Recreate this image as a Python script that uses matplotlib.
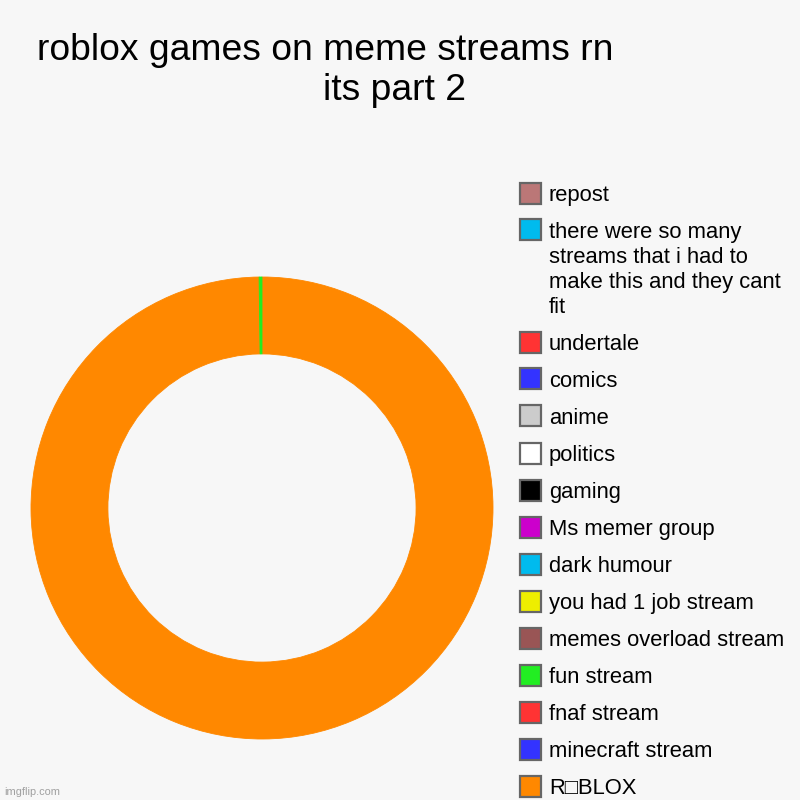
import matplotlib
matplotlib.use("Agg")
import matplotlib.pyplot as plt
from matplotlib.patches import Rectangle

# ---- data ----
labels = [
    "R\u25a1BLOX",
    "minecraft stream",
    "fnaf stream",
    "fun stream",
    "memes overload stream",
    "you had 1 job stream",
    "dark humour",
    "Ms memer group",
    "gaming",
    "politics",
    "anime",
    "comics",
    "undertale",
    "there were so many\nstreams that i had to\nmake this and they cant\nfit",
    "repost",
]
values = [500, 0, 0, 1, 0, 0, 0, 0, 0, 0, 0, 0, 0, 0, 0]
colors = [
    "#ff8800", "#3333ff", "#ff3333", "#22ee22", "#995555",
    "#eeee00", "#00bbee", "#cc00cc", "#000000", "#ffffff",
    "#cccccc", "#3333ff", "#ff3333", "#00bbee", "#bb7777",
]
title_line1 = "roblox games on meme streams rn"
title_line2 = "its part 2"

BG = "#f7f7f7"
FONT = ["Liberation Sans", "DejaVu Sans"]
plt.rcParams["font.family"] = FONT

W = H = 800
fig = plt.figure(figsize=(8, 8), dpi=100, facecolor=BG)

# donut
cx, cy, R = 262, 508, 231
ax = fig.add_axes([(cx - R) / W, (H - cy - R) / H, 2 * R / W, 2 * R / H])
ax.set_facecolor(BG)
nz_vals = [v for v in values if v > 0]
nz_cols = [c for v, c in zip(values, colors) if v > 0]
wedges, _ = ax.pie(nz_vals, colors=nz_cols, startangle=90, counterclock=False,
                   radius=1.0, wedgeprops=dict(width=0.333, linewidth=0.6))
for w, c in zip(wedges, nz_cols):
    w.set_edgecolor(c)
ax.set_xlim(-1, 1)
ax.set_ylim(-1, 1)
ax.set_aspect("equal")
ax.axis("off")

# title
fig.text(325 / W, 1 - 60 / H, title_line1, fontsize=26.8, ha="center", va="baseline", color="#000000")
fig.text(394.5 / W, 1 - 100 / H, title_line2, fontsize=26.8, ha="center", va="baseline", color="#000000")

# legend (drawn top to bottom in reverse data order)
y = 193
box = 21
for lab, col in zip(reversed(labels), reversed(colors)):
    lines = lab.split("\n")
    fig.patches.append(Rectangle((520 / W, 1 - (y + box / 2) / H), box / W, box / H,
                                 transform=fig.transFigure, facecolor=col,
                                 edgecolor="#666666", linewidth=1.6))
    for k, ln in enumerate(lines):
        fig.text(549 / W, 1 - (y + 8 + 25 * k) / H, ln, fontsize=15.8,
                 ha="left", va="baseline", color="#000000")
    y += 37 + 25 * (len(lines) - 1)

# watermark
fig.text(4 / W, 1 - 795 / H, "imgflip.com", fontsize=7.9, color="#a0a0a0",
         ha="left", va="baseline")

fig.savefig("out.png", dpi=100, facecolor=BG)
